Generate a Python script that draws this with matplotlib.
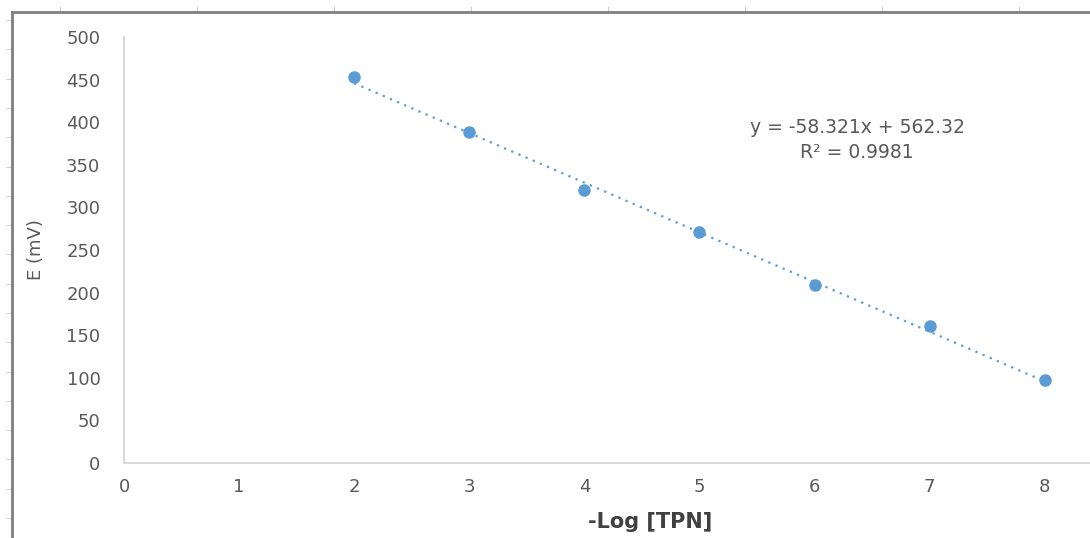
import matplotlib.pyplot as plt
import numpy as np

# -Log [TPN] vs electrode potential
neg_log_tpn = [2, 3, 4, 5, 6, 7, 8]
e_mv = [453, 388, 321, 271, 209, 161, 98]
slope, intercept = -58.321, 562.32
r2 = 0.9981

fig = plt.figure(figsize=(10.9, 5.38), dpi=100)

# outer frame with ruler-like ticks (screenshot border)
frame = fig.add_axes([12 / 1090, 0, 1 - 12 / 1090, 1 - 12 / 538])
frame.set_xlim(0, 1078)
frame.set_ylim(526, 0)
for s in ("right", "bottom"):
    frame.spines[s].set_visible(False)
for s in ("left", "top"):
    frame.spines[s].set_color("#7f7f7f")
    frame.spines[s].set_linewidth(2)
frame.xaxis.tick_top()
frame.set_xticks(np.arange(48, 1078, 137))
frame.set_yticks(np.arange(8, 526, 29.3))
frame.tick_params(direction="out", length=4, color="#d0d0d0", labelleft=False, labeltop=False)
frame.patch.set_alpha(0)

ax = fig.add_axes([124 / 1090, 1 - 463 / 538, 1 - 124 / 1090, (463 - 37) / 538])
ax.patch.set_alpha(0)
ax.plot(neg_log_tpn, e_mv, "o", color="#5b9bd5", markersize=8, zorder=3)
xs = np.array([neg_log_tpn[0], neg_log_tpn[-1]])
ax.plot(xs, slope * xs + intercept, linestyle=(0, (1, 2.5)), color="#5b9bd5", linewidth=1.6)

ax.set_xlim(0, (1090 - 124) / 115.1)
ax.set_ylim(0, 500)
ax.set_xticks(range(0, 9))
ax.set_yticks(range(0, 501, 50))
for s in ("top", "right"):
    ax.spines[s].set_visible(False)
for s in ("left", "bottom"):
    ax.spines[s].set_color("#d9d9d9")
    ax.spines[s].set_linewidth(1.5)
ax.tick_params(length=0, labelsize=13, labelcolor="#595959")
ax.tick_params(axis="x", pad=11)
ax.tick_params(axis="y", pad=17)

ax.set_xlabel("-Log [TPN]", fontsize=15, fontweight="bold", color="#404040")
ax.xaxis.set_label_coords((650 - 124) / 966, -0.115)
ax.set_ylabel("E (mV)", fontsize=13, color="#595959")
ax.yaxis.set_label_coords(-0.082, 0.5)

ax.text(6.37, 394, f"y = {slope}x + {intercept}", ha="center", va="center", fontsize=13.5, color="#595959")
ax.text(6.37, 365, f"R² = {r2}", ha="center", va="center", fontsize=13.5, color="#595959")

fig.savefig("out.png", dpi=100)
